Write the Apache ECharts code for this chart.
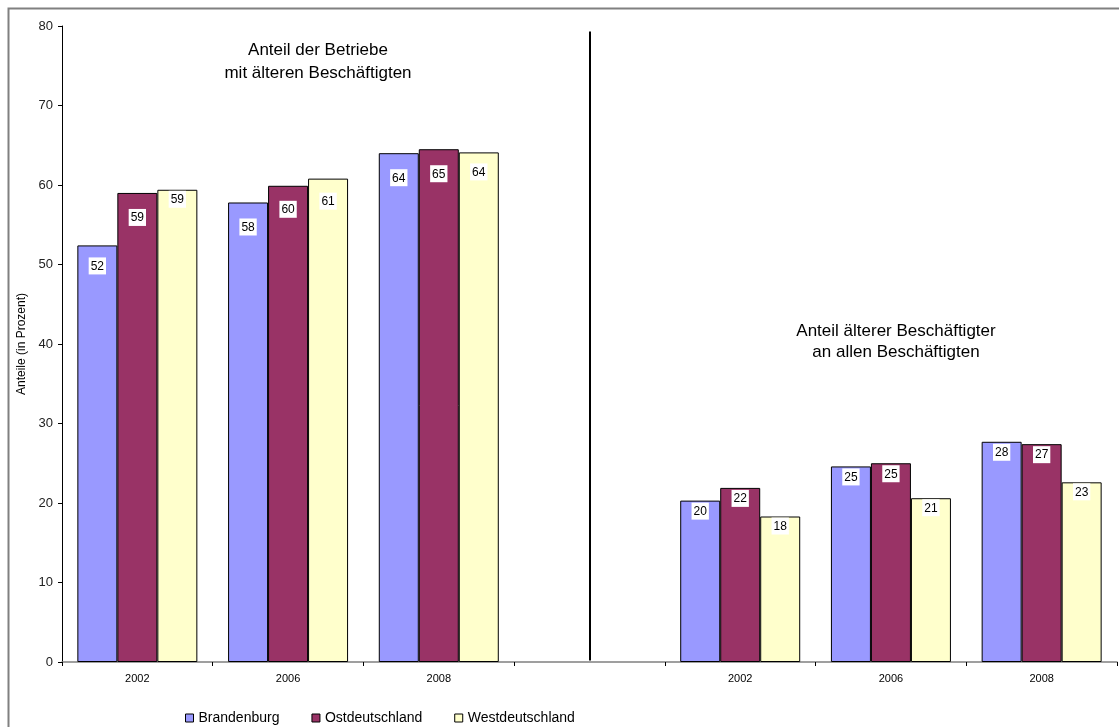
<!DOCTYPE html>
<html>
<head>
<meta charset="utf-8">
<script src="https://cdn.jsdelivr.net/npm/echarts@6/dist/echarts.min.js"></script>
<style>
html,body{margin:0;padding:0;background:#fff;}
#chart{width:1119px;height:727px;}
</style>
</head>
<body>
<div id="chart"></div>
<script>
// ---- data ----
var categories = ['2002', '2006', '2008', '', '2002', '2006', '2008'];
var brandenburg = [52.4, 57.8, 64.0, null, 20.3, 24.6, 27.7];
var ostdeutschland = [59.0, 59.9, 64.5, null, 21.9, 25.0, 27.4];
var westdeutschland = [59.4, 60.8, 64.1, null, 18.3, 20.6, 22.6];
var yTicks = [0, 10, 20, 30, 40, 50, 60, 70, 80];
var seriesNames = ['Brandenburg', 'Ostdeutschland', 'Westdeutschland'];
var groupTitles = ['Anteil der Betriebe\nmit älteren Beschäftigten', 'Anteil älterer Beschäftigter\nan allen Beschäftigten'];

// ---- styling (label drop inside bar, px) ----
var labelDrop = [
  [12, 16, 16, 0, 2, 2, 2],
  [16, 15, 16, 0, 2, 2, 2],
  [1, 14, 11, 0, 1, 1, 1]
];
var colors = ['#9999FF', '#993366', '#FFFFCC'];
var FONT = '"Liberation Sans", Arial, sans-serif';

function makeSeries(idx, values) {
  return {
    name: seriesNames[idx],
    type: 'bar',
    barWidth: 40,
    barGap: '0%',
    itemStyle: { color: colors[idx], borderColor: '#000', borderWidth: 1 },
    data: values.map(function (v, i) {
      if (v === null) return '-';
      return {
        value: v,
        label: { distance: labelDrop[idx][i] }
      };
    }),
    label: {
      show: true,
      position: 'insideTop',
      formatter: function (p) { return String(Math.round(p.value)); },
      fontFamily: FONT,
      fontSize: 12,
      color: '#000',
      backgroundColor: '#fff',
      padding: [3, 2, 2, 2]
    }
  };
}

var series = [
  makeSeries(0, brandenburg),
  makeSeries(1, ostdeutschland),
  makeSeries(2, westdeutschland)
];
// middle bar series has zero offset, so the divider sits on the category centre
series[1].markLine = {
  silent: true,
  symbol: 'none',
  label: { show: false },
  lineStyle: { color: '#000', width: 2, type: 'solid' },
  data: [[{ coord: [3, 79.3] }, { coord: [3, 0.2] }]]
};

var chart = echarts.init(document.getElementById('chart'));
chart.setOption({
  animation: false,
  backgroundColor: '#fff',
  textStyle: { fontFamily: FONT },
  grid: { left: 62, right: 2, top: 26, bottom: 65, containLabel: false },
  legend: {
    data: seriesNames,
    left: 180,
    top: 706,
    itemWidth: 8,
    itemHeight: 8,
    itemGap: 32,
    icon: 'rect',
    itemStyle: { borderColor: '#000', borderWidth: 1 },
    textStyle: { fontFamily: FONT, fontSize: 14, color: '#000' }
  },
  xAxis: {
    type: 'category',
    data: categories,
    axisLine: { lineStyle: { color: '#808080', width: 1.5 } },
    axisTick: { show: true, length: 4, lineStyle: { color: '#000' } },
    axisLabel: { fontFamily: FONT, fontSize: 11, color: '#000', margin: 11 },
    splitLine: { show: false }
  },
  yAxis: {
    type: 'value',
    min: yTicks[0],
    max: yTicks[yTicks.length - 1],
    interval: yTicks[1] - yTicks[0],
    name: 'Anteile (in Prozent)',
    nameLocation: 'middle',
    nameGap: 34,
    nameTextStyle: { fontFamily: FONT, fontSize: 12, color: '#000' },
    axisLine: { show: true, lineStyle: { color: '#000', width: 1 } },
    axisTick: { show: true, length: 4, lineStyle: { color: '#000' } },
    axisLabel: { fontFamily: FONT, fontSize: 13, color: '#222', margin: 9 },
    splitLine: { show: false }
  },
  graphic: [
    {
      type: 'rect',
      left: 6, top: 6,
      shape: { width: 1200, height: 800 },
      style: { fill: 'none', stroke: '#808080', lineWidth: 2 },
      silent: true
    },
    {
      type: 'text',
      x: 318, y: 39,
      style: {
        text: groupTitles[0],
        font: '17px ' + FONT,
        fill: '#000',
        align: 'center',
        lineHeight: 23
      }
    },
    {
      type: 'text',
      x: 896, y: 321,
      style: {
        text: groupTitles[1],
        font: '17px ' + FONT,
        fill: '#000',
        align: 'center',
        lineHeight: 21
      }
    }
  ],
  series: series
});
</script>
</body>
</html>
